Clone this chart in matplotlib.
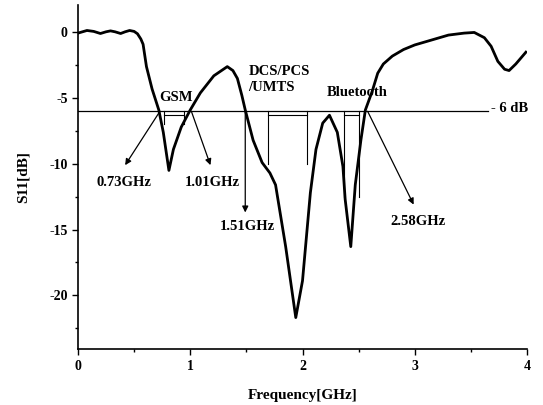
import numpy as np
import matplotlib
matplotlib.use("Agg")
import matplotlib.pyplot as plt

# S11 curve (GHz, dB)
freq = [0.00, 0.04, 0.08, 0.14, 0.20, 0.25, 0.29, 0.33, 0.38, 0.42, 0.46, 0.50,
        0.53, 0.56, 0.58, 0.61, 0.66, 0.72, 0.76, 0.81, 0.85, 0.92, 1.00, 1.09,
        1.21, 1.33, 1.38, 1.42, 1.46, 1.49, 1.56, 1.64, 1.71, 1.76, 1.85, 1.94,
        2.00, 2.07, 2.12, 2.18, 2.24, 2.31, 2.36, 2.38, 2.43, 2.47, 2.52, 2.56,
        2.62, 2.67, 2.72, 2.80, 2.90, 3.00, 3.14, 3.30, 3.44, 3.53, 3.62, 3.68,
        3.74, 3.80, 3.84, 3.90, 3.99]
s11 = [-0.05, 0.05, 0.15, 0.08, -0.08, 0.05, 0.12, 0.05, -0.08, 0.05, 0.15, 0.08,
       -0.10, -0.50, -0.90, -2.60, -4.30, -5.90, -7.60, -10.50, -8.90, -7.20, -5.90, -4.60,
       -3.30, -2.60, -2.90, -3.50, -4.80, -5.90, -8.20, -9.90, -10.70, -11.60, -16.30, -21.70,
       -18.90, -12.20, -8.90, -6.90, -6.30, -7.60, -10.20, -12.70, -16.30, -11.60, -8.20, -5.90,
       -4.50, -3.10, -2.40, -1.80, -1.30, -0.95, -0.60, -0.20, -0.05, 0.00, -0.40, -1.05,
       -2.20, -2.80, -2.90, -2.40, -1.50]

# band markers (GHz) and how far their side lines drop (dB)
band_lo = [0.77, 1.69, 2.37]
band_hi = [0.94, 2.04, 2.50]
band_drop = [-7.0, -10.0, -12.5]

# -6 dB crossing annotations
cross_f = [0.73, 1.01, 1.49, 2.58]
cross_lbl = ["0.73GHz", "1.01GHz", "1.51GHz", "2.58GHz"]
cross_tx = [0.41, 1.20, 1.51, 3.03]
cross_ty = [-11.4, -11.4, -14.8, -14.4]
arrow_end_x = [0.42, 1.18, 1.49, 2.99]
arrow_end_y = [-10.1, -10.1, -13.7, -13.1]

plt.rcParams["font.family"] = ["Liberation Serif", "DejaVu Serif"]
plt.rcParams["font.weight"] = "bold"
plt.rcParams["axes.unicode_minus"] = False

fig = plt.figure(figsize=(5.43, 4.05), dpi=100)
ax = fig.add_axes([0.1436, 0.138, 0.827, 0.85])

ax.plot(freq, s11, color="black", lw=2.0)

ax.plot([0, 3.65], [-6, -6], color="black", lw=0.9)
ax.text(3.68, -5.75, "- 6 dB", fontsize=10.5, fontweight="bold", va="center", ha="left")

for lo, hi, d in zip(band_lo, band_hi, band_drop):
    ax.plot([lo, hi], [-6.3, -6.3], color="black", lw=0.8)
    ax.plot([lo, lo], [-6, d], color="black", lw=0.8)
    ax.plot([hi, hi], [-6, d], color="black", lw=0.8)

for f, lbl, tx, ty, ex, ey in zip(cross_f, cross_lbl, cross_tx, cross_ty,
                                  arrow_end_x, arrow_end_y):
    ax.annotate("", xy=(ex, ey), xytext=(f, -6),
                arrowprops=dict(arrowstyle="-|>", color="black", lw=0.9,
                                mutation_scale=9, shrinkA=0, shrinkB=0))
    ax.text(tx, ty, lbl, fontsize=10.5, fontweight="bold", ha="center", va="center")

ax.text(0.87, -4.95, "GSM", fontsize=10.5, fontweight="bold", ha="center", va="center")
ax.text(1.52, -2.5, "DCS/PCS\n/UMTS", fontsize=10.5, fontweight="bold",
        ha="left", va="top", linespacing=1.3)
ax.text(2.49, -4.6, "Bluetooth", fontsize=10.5, fontweight="bold", ha="center", va="center")

ax.set_xlim(0, 4)
ax.set_ylim(-24.1, 2.1)
ax.set_xticks([0, 1, 2, 3, 4])
ax.set_xticks([0.5, 1.5, 2.5, 3.5], minor=True)
ax.set_yticks([0, -5, -10, -15, -20])
ax.set_yticks([-2.5, -7.5, -12.5, -17.5, -22.5], minor=True)
ax.tick_params(axis="both", which="major", direction="out", length=4, width=1,
               labelsize=10)
ax.tick_params(axis="both", which="minor", direction="out", length=2.5, width=1)
for lab in ax.get_xticklabels() + ax.get_yticklabels():
    lab.set_fontweight("bold")

ax.spines["top"].set_visible(False)
ax.spines["right"].set_visible(False)
ax.spines["left"].set_linewidth(1.2)
ax.spines["bottom"].set_linewidth(1.2)

ax.set_xlabel("Frequency[GHz]", fontsize=11, fontweight="bold", labelpad=12)
ax.set_ylabel("S11[dB]", fontsize=11, fontweight="bold", labelpad=14)

fig.savefig("out.png", dpi=100)
